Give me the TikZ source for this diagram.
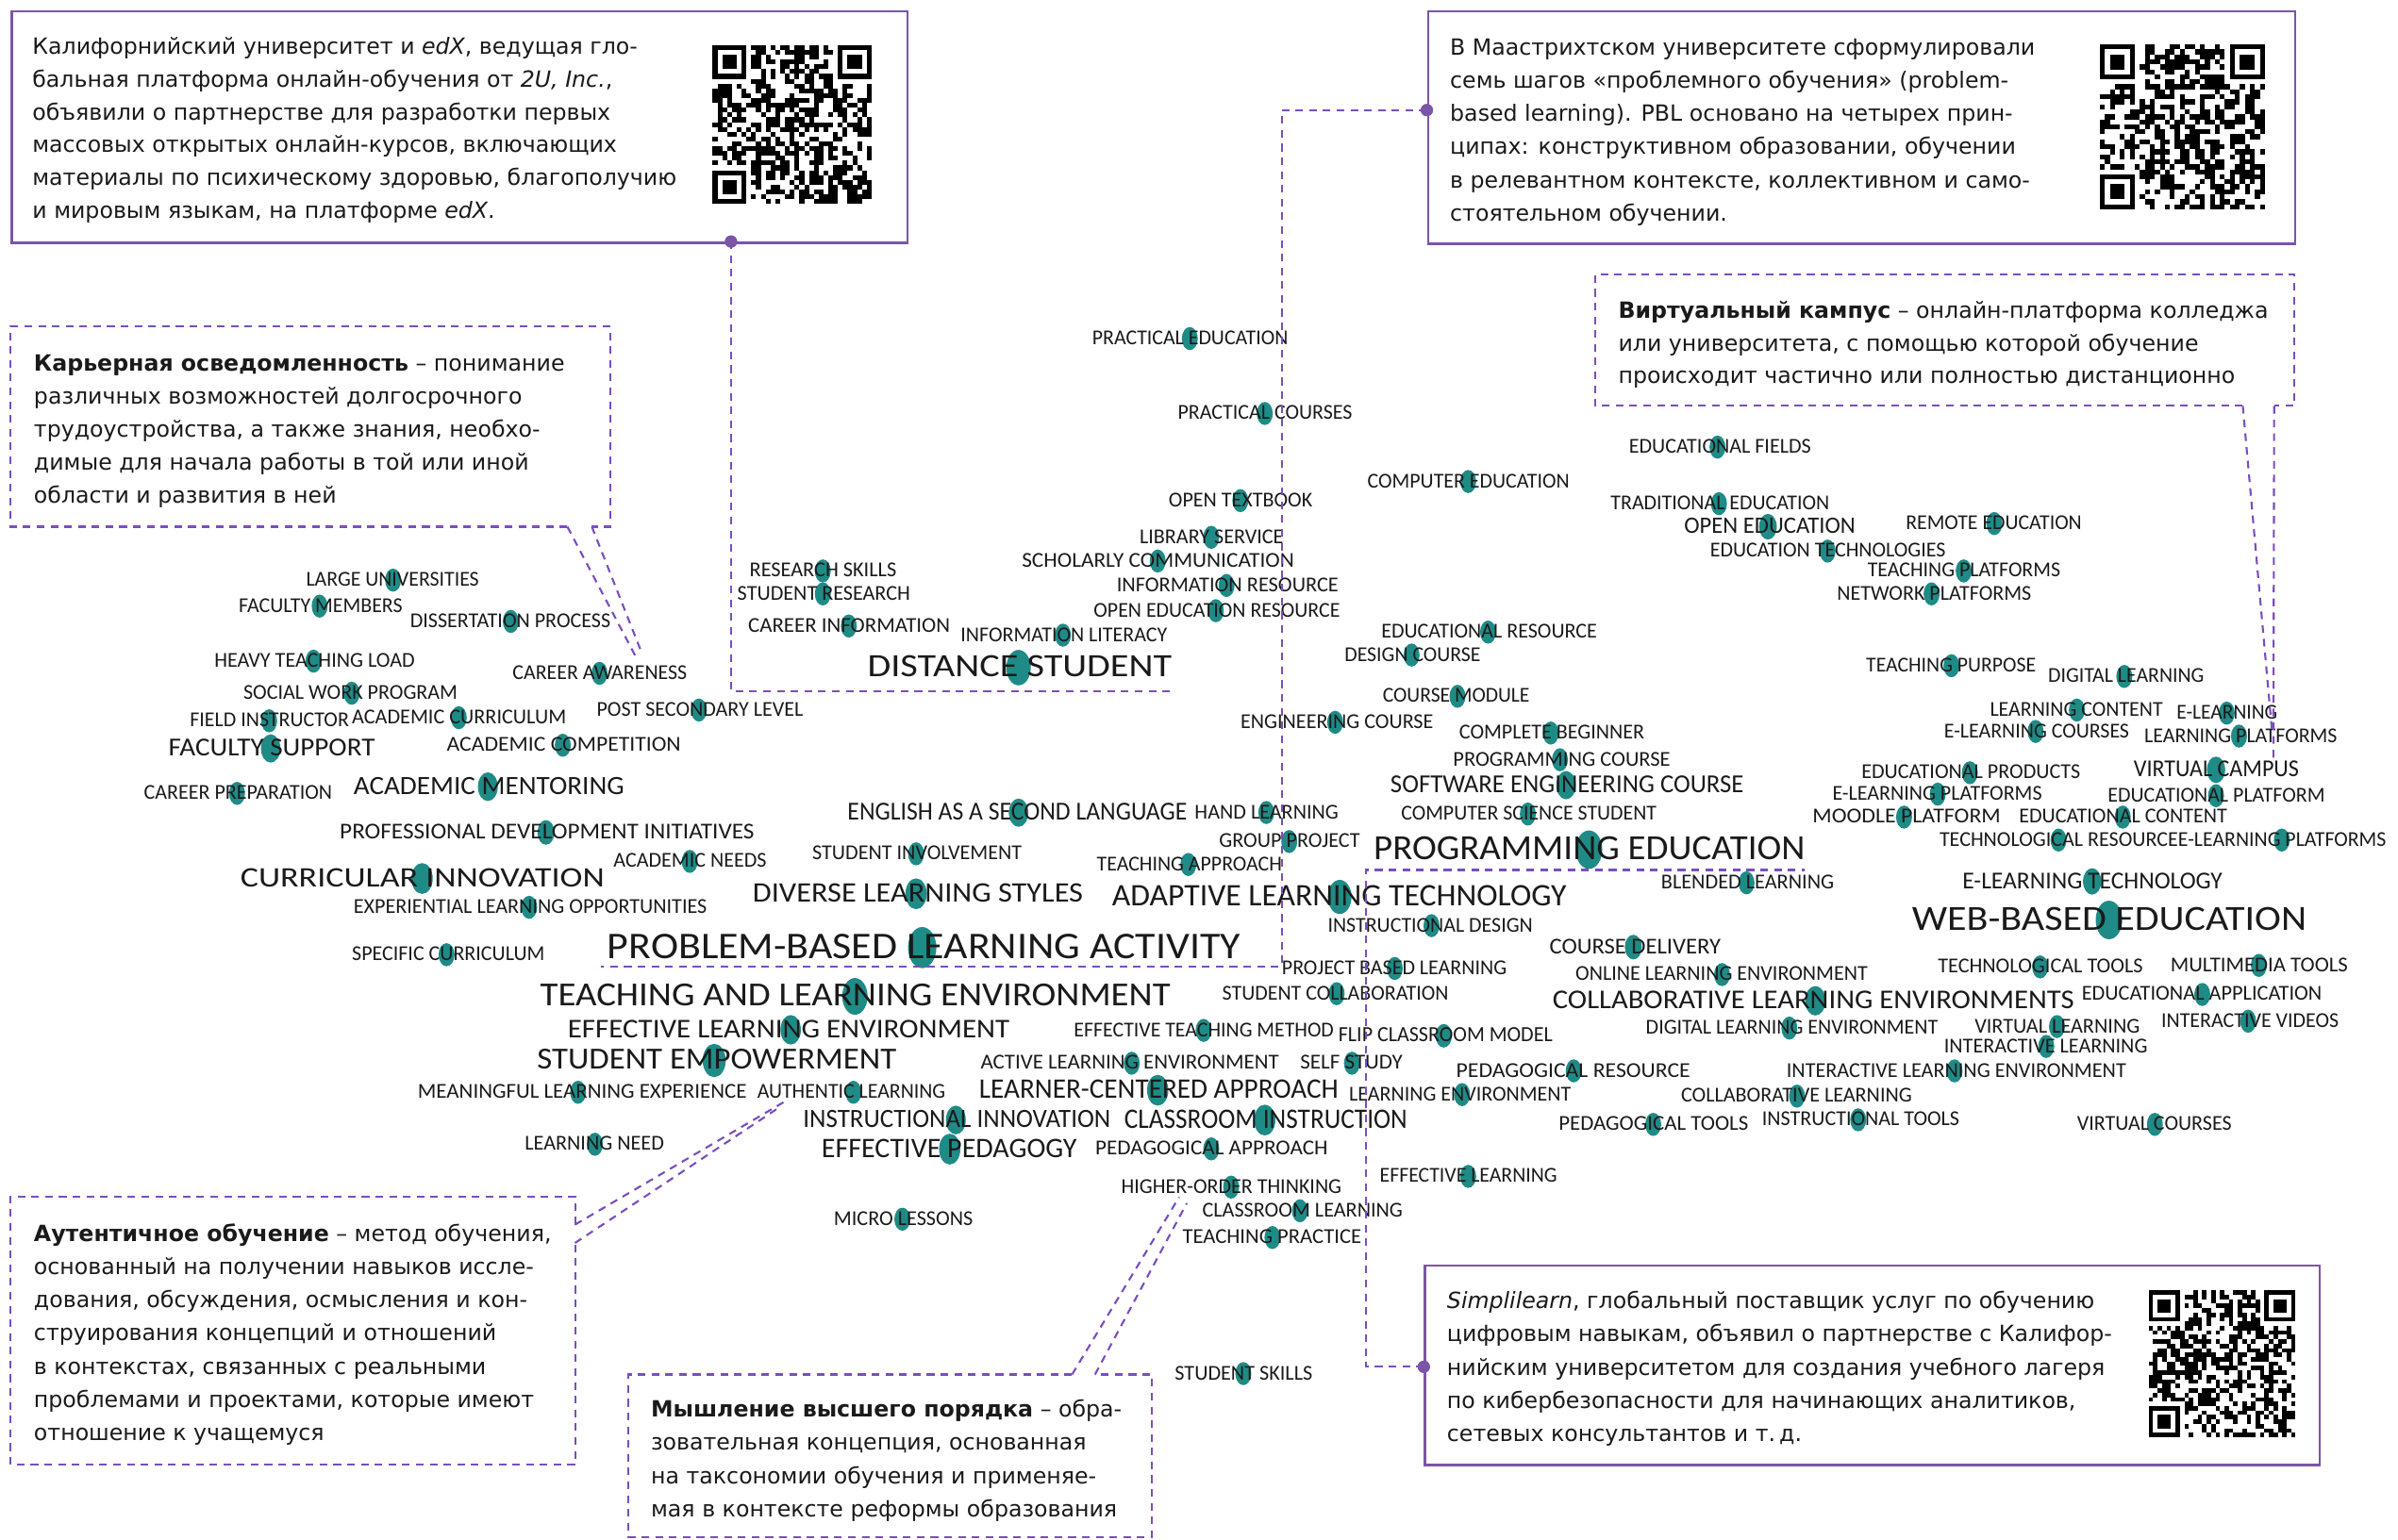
\documentclass[tikz,border=0pt]{standalone}
\usepackage{fontspec}
\usepackage{graphicx}
\setmainfont{DejaVu Sans}
\newfontfamily\cloudfont{Carlito}

\definecolor{boxviolet}{HTML}{7B55A8}
\definecolor{leadviolet}{HTML}{7A4EBE}
\definecolor{dotteal}{HTML}{1F8B86}
\definecolor{ink}{HTML}{1A1A1A}

% QR-like module grid (33 x 33): left, top, module size, seed
\newcommand\qrblock[4]{%
  \pgfmathsetseed{#4}%
  \foreach \qi in {0,...,32}{%
    \foreach \qj in {0,...,32}{%
      \pgfmathrandominteger{\qrbit}{0}{1}%
      \pgfmathtruncatemacro{\qrfree}{!(((\qi<8)&&(\qj<8))||((\qi>24)&&(\qj<8))||((\qi<8)&&(\qj>24)))}%
      \pgfmathtruncatemacro{\qrdraw}{\qrbit*\qrfree}%
      \ifnum\qrdraw=1
        \fill[black] (#1+\qi*#3,#2+\qj*#3) rectangle ++(#3,#3);
      \fi
    }%
  }%
  \foreach \fx/\fy in {0/0,26/0,0/26}{%
    \fill[black] (#1+\fx*#3,#2+\fy*#3) rectangle ++(7*#3,7*#3);
    \fill[white] (#1+\fx*#3+#3,#2+\fy*#3+#3) rectangle ++(5*#3,5*#3);
    \fill[black] (#1+\fx*#3+2*#3,#2+\fy*#3+2*#3) rectangle ++(3*#3,3*#3);
  }%
}

% keyword map: name, left x, right x, centre y, cap height, marker x, label
\newcommand\termdotpass[7]{%
  \fill[clouddot] (#6,#4+0.05*#5) ellipse [x radius=0.58*#5pt, y radius=0.84*#5pt];}
\newcommand\termlabelpass[7]{%
  \pgfmathsetlengthmacro\termw{#3-#2}%
  \node[cloudword] (#1) at (#2,#4) {\resizebox{\termw}{#5pt}{\cloudfont #7}};}

\newcommand\termlist{%
\cloudterm{t01}{714}{842}{221}{9}{778}{PRACTICAL EDUCATION}%
\cloudterm{t02}{770}{884}{270}{9}{827}{PRACTICAL COURSES}%
\cloudterm{t03}{764}{858}{327}{9}{811}{OPEN TEXTBOOK}%
\cloudterm{t04}{894}{1026}{314.5}{9}{960}{COMPUTER EDUCATION}%
\cloudterm{t05}{745}{839}{351}{9}{792}{LIBRARY SERVICE}%
\cloudterm{t06}{668}{846}{366.5}{9}{757}{SCHOLARLY COMMUNICATION}%
\cloudterm{t07}{730}{875}{382.5}{9}{802}{INFORMATION RESOURCE}%
\cloudterm{t08}{715}{876}{399}{9}{795}{OPEN EDUCATION RESOURCE}%
\cloudterm{t09}{628}{763}{415}{9}{695}{INFORMATION LITERACY}%
\cloudterm{t10}{490}{586}{373}{9}{538}{RESEARCH SKILLS}%
\cloudterm{t11}{482}{595}{388}{9}{538}{STUDENT RESEARCH}%
\cloudterm{t12}{489}{621}{409}{9}{555}{CAREER INFORMATION}%
\cloudterm{t13}{567}{766}{436}{13.8}{666}{DISTANCE STUDENT}%
\cloudterm{t14}{200}{313}{379}{9}{257}{LARGE UNIVERSITIES}%
\cloudterm{t15}{156}{263}{396}{9}{209}{FACULTY MEMBERS}%
\cloudterm{t16}{268}{399}{406}{9}{334}{DISSERTATION PROCESS}%
\cloudterm{t17}{140}{271}{432}{9}{205}{HEAVY TEACHING LOAD}%
\cloudterm{t18}{335}{449}{440}{9}{392}{CAREER AWARENESS}%
\cloudterm{t19}{159}{299}{453}{9}{230}{SOCIAL WORK PROGRAM}%
\cloudterm{t20}{390}{525}{464}{9}{457}{POST SECONDARY LEVEL}%
\cloudterm{t21}{124}{228}{471}{9}{176}{FIELD INSTRUCTOR}%
\cloudterm{t22}{230}{370}{469}{9}{300}{ACADEMIC CURRICULUM}%
\cloudterm{t23}{110}{245}{489}{11}{177}{FACULTY SUPPORT}%
\cloudterm{t24}{292}{445}{487}{9}{368}{ACADEMIC COMPETITION}%
\cloudterm{t25}{94}{217}{518.5}{9}{155}{CAREER PREPARATION}%
\cloudterm{t26}{231}{408}{514}{11.2}{319}{ACADEMIC MENTORING}%
\cloudterm{t27}{222}{493}{544}{9.6}{357}{PROFESSIONAL DEVELOPMENT INITIATIVES}%
\cloudterm{t28}{401}{501}{563}{9}{451}{ACADEMIC NEEDS}%
\cloudterm{t29}{157}{395}{574}{12}{276}{CURRICULAR INNOVATION}%
\cloudterm{t30}{231}{462}{593}{9}{346}{EXPERIENTIAL LEARNING OPPORTUNITIES}%
\cloudterm{t31}{230}{356}{624}{9}{292}{SPECIFIC CURRICULUM}%
\cloudterm{t32}{554}{776}{531}{11}{666}{ENGLISH AS A SECOND LANGUAGE}%
\cloudterm{t33}{781}{875}{531}{9}{828}{HAND LEARNING}%
\cloudterm{t34}{531}{668}{558}{9}{599}{STUDENT INVOLVEMENT}%
\cloudterm{t35}{797}{889}{550}{9}{843}{GROUP PROJECT}%
\cloudterm{t36}{717}{838}{565}{9}{777}{TEACHING APPROACH}%
\cloudterm{t37}{492}{708}{584}{12}{599}{DIVERSE LEARNING STYLES}%
\cloudterm{t38}{727}{1024}{586}{13.3}{876}{ADAPTIVE LEARNING TECHNOLOGY}%
\cloudterm{t39}{868}{1002}{605}{9}{936}{INSTRUCTIONAL DESIGN}%
\cloudterm{t40}{397}{811}{619}{16}{603}{PROBLEM-BASED LEARNING ACTIVITY}%
\cloudterm{t41}{838}{985}{633}{9}{912}{PROJECT BASED LEARNING}%
\cloudterm{t42}{799}{947}{649.5}{9}{874}{STUDENT COLLABORATION}%
\cloudterm{t43}{353}{765}{651}{14.3}{559}{TEACHING AND LEARNING ENVIRONMENT}%
\cloudterm{t44}{371}{660}{673}{11.5}{517}{EFFECTIVE LEARNING ENVIRONMENT}%
\cloudterm{t45}{702}{872}{673.5}{9}{787}{EFFECTIVE TEACHING METHOD}%
\cloudterm{t46}{875}{1015}{677}{9.2}{944}{FLIP CLASSROOM MODEL}%
\cloudterm{t47}{351}{586}{693}{13}{467}{STUDENT EMPOWERMENT}%
\cloudterm{t48}{641}{836}{695}{9}{740}{ACTIVE LEARNING ENVIRONMENT}%
\cloudterm{t49}{850}{917}{695}{9}{884}{SELF STUDY}%
\cloudterm{t50}{273}{488}{714}{9}{378}{MEANINGFUL LEARNING EXPERIENCE}%
\cloudterm{t51}{495}{618}{714}{9}{558}{AUTHENTIC LEARNING}%
\cloudterm{t52}{640}{875}{712.5}{12}{757}{LEARNER-CENTERED APPROACH}%
\cloudterm{t53}{882}{1027}{715.5}{9}{956}{LEARNING ENVIRONMENT}%
\cloudterm{t54}{525}{726}{732}{11.2}{625}{INSTRUCTIONAL INNOVATION}%
\cloudterm{t55}{735}{920}{732}{12}{827}{CLASSROOM INSTRUCTION}%
\cloudterm{t56}{537}{704}{751}{12}{621}{EFFECTIVE PEDAGOGY}%
\cloudterm{t57}{716}{868}{751}{9}{792}{PEDAGOGICAL APPROACH}%
\cloudterm{t58}{343}{434}{748}{9}{389}{LEARNING NEED}%
\cloudterm{t59}{733}{877}{776}{9}{805}{HIGHER-ORDER THINKING}%
\cloudterm{t60}{786}{917}{791.5}{9}{850}{CLASSROOM LEARNING}%
\cloudterm{t61}{773}{890}{809}{9}{832}{TEACHING PRACTICE}%
\cloudterm{t62}{902}{1018}{769}{9}{960}{EFFECTIVE LEARNING}%
\cloudterm{t63}{545}{636}{797}{9}{590}{MICRO LESSONS}%
\cloudterm{t64}{768}{858}{898}{9}{813}{STUDENT SKILLS}%
\cloudterm{t65}{1065}{1184}{292}{9}{1123}{EDUCATIONAL FIELDS}%
\cloudterm{t66}{1053}{1196}{329}{9}{1124}{TRADITIONAL EDUCATION}%
\cloudterm{t67}{1101}{1213}{344}{10}{1156}{OPEN EDUCATION}%
\cloudterm{t68}{1246}{1361}{342}{9}{1304}{REMOTE EDUCATION}%
\cloudterm{t69}{1118}{1272}{360}{9}{1195}{EDUCATION TECHNOLOGIES}%
\cloudterm{t70}{1221}{1347}{373}{9}{1284}{TEACHING PLATFORMS}%
\cloudterm{t71}{1201}{1328}{388}{9}{1263}{NETWORK PLATFORMS}%
\cloudterm{t72}{903}{1044}{413}{9}{973}{EDUCATIONAL RESOURCE}%
\cloudterm{t73}{879}{968}{428}{9}{923}{DESIGN COURSE}%
\cloudterm{t74}{904}{1000}{455}{9}{953}{COURSE MODULE}%
\cloudterm{t75}{811}{937}{472}{9}{873}{ENGINEERING COURSE}%
\cloudterm{t76}{954}{1075}{479}{9}{1014}{COMPLETE BEGINNER}%
\cloudterm{t77}{950}{1092}{496.5}{9}{1020}{PROGRAMMING COURSE}%
\cloudterm{t78}{909}{1140}{513}{11}{1024}{SOFTWARE ENGINEERING COURSE}%
\cloudterm{t79}{916}{1083}{532}{9}{999}{COMPUTER SCIENCE STUDENT}%
\cloudterm{t80}{898}{1180}{555}{15}{1039}{PROGRAMMING EDUCATION}%
\cloudterm{t81}{1086}{1199}{577}{9}{1142}{BLENDED LEARNING}%
\cloudterm{t82}{1013}{1125}{619}{9.6}{1068}{COURSE DELIVERY}%
\cloudterm{t83}{1030}{1221}{637}{9}{1126}{ONLINE LEARNING ENVIRONMENT}%
\cloudterm{t84}{1015}{1356}{654}{11.5}{1187}{COLLABORATIVE LEARNING ENVIRONMENTS}%
\cloudterm{t85}{1076}{1267}{672}{9}{1170}{DIGITAL LEARNING ENVIRONMENT}%
\cloudterm{t86}{952}{1105}{700}{9}{1029}{PEDAGOGICAL RESOURCE}%
\cloudterm{t87}{1099}{1250}{716.5}{9}{1175}{COLLABORATIVE LEARNING}%
\cloudterm{t88}{1019}{1143}{735}{9}{1081}{PEDAGOGICAL TOOLS}%
\cloudterm{t89}{1152}{1281}{732}{9}{1215}{INSTRUCTIONAL TOOLS}%
\cloudterm{t90}{1220}{1331}{435}{9}{1276}{TEACHING PURPOSE}%
\cloudterm{t91}{1339}{1441}{442}{9}{1389}{DIGITAL LEARNING}%
\cloudterm{t92}{1301}{1414}{464}{9}{1358}{LEARNING CONTENT}%
\cloudterm{t93}{1423}{1489}{466}{9}{1456}{E-LEARNING}%
\cloudterm{t94}{1271}{1392}{478}{9}{1331}{E-LEARNING COURSES}%
\cloudterm{t95}{1402}{1528}{481}{9}{1464}{LEARNING PLATFORMS}%
\cloudterm{t96}{1217}{1360}{505}{9}{1288}{EDUCATIONAL PRODUCTS}%
\cloudterm{t97}{1395}{1503}{503}{10.3}{1449}{VIRTUAL CAMPUS}%
\cloudterm{t98}{1198}{1335}{519}{9}{1267}{E-LEARNING PLATFORMS}%
\cloudterm{t99}{1378}{1520}{520}{9}{1449}{EDUCATIONAL PLATFORM}%
\cloudterm{t100}{1185}{1308}{534}{9}{1245}{MOODLE PLATFORM}%
\cloudterm{t101}{1320}{1456}{534}{9}{1388}{EDUCATIONAL CONTENT}%
\cloudterm{t102}{1268}{1424}{549}{9}{1346}{TECHNOLOGICAL RESOURCE}%
\cloudterm{t103}{1424}{1560}{549}{9}{1492}{E-LEARNING PLATFORMS}%
\cloudterm{t104}{1283}{1453}{576}{10.3}{1368}{E-LEARNING TECHNOLOGY}%
\cloudterm{t105}{1250}{1508}{601}{15}{1379}{WEB-BASED EDUCATION}%
\cloudterm{t106}{1267}{1401}{632}{9}{1334}{TECHNOLOGICAL TOOLS}%
\cloudterm{t107}{1419}{1535}{631}{9}{1477}{MULTIMEDIA TOOLS}%
\cloudterm{t108}{1361}{1518}{650}{9}{1440}{EDUCATIONAL APPLICATION}%
\cloudterm{t109}{1413}{1529}{667.5}{9}{1470}{INTERACTIVE VIDEOS}%
\cloudterm{t110}{1291}{1399}{671}{9}{1345}{VIRTUAL LEARNING}%
\cloudterm{t111}{1271}{1404}{684}{9}{1338}{INTERACTIVE LEARNING}%
\cloudterm{t112}{1168}{1390}{700}{9}{1278}{INTERACTIVE LEARNING ENVIRONMENT}%
\cloudterm{t113}{1358}{1459}{735}{9}{1409}{VIRTUAL COURSES}%
}

\begin{document}
\begin{tikzpicture}[x=1pt, y=-1pt,
  infobox/.style={draw=boxviolet, line width=1.6pt, inner sep=0pt, anchor=north west},
  notebox/.style={draw=leadviolet, line width=1.3pt, dash pattern=on 5pt off 4pt},
  leader/.style={draw=leadviolet, line width=1.3pt, dash pattern=on 5pt off 4pt},
  notetext/.style={anchor=base west, inner sep=0pt, text=ink, font=\fontsize{14.6}{18}\selectfont},
  tipdot/.style={circle, fill=boxviolet, inner sep=0pt, minimum size=8pt},
  cloudword/.style={anchor=west, inner sep=0pt, text=ink},
  clouddot/.style={fill=dotteal}]

\useasboundingbox (0,0) rectangle (1568,1007);
\fill[white] (0,0) rectangle (1568,1007);

% ---------- keyword map: markers first, labels on top ----------
\let\cloudterm\termdotpass
\termlist
\let\cloudterm\termlabelpass
\termlist

% ---------- framed news boxes ----------
\node[infobox, minimum width=585.5pt, minimum height=151.5pt] (boxA) at (7,6.5) {};
\node[infobox, minimum width=567pt, minimum height=152pt] (boxB) at (933,6.5) {};
\node[infobox, minimum width=585pt, minimum height=130.5pt] (boxF) at (931,827) {};

\node[notetext] (a1) at (21,35.4) {Калифорнийский университет и \emph{edX}, ведущая гло-};
\node[notetext] (a2) at (21,56.9) {бальная платформа онлайн-обучения от \emph{2U, Inc.},};
\node[notetext] (a3) at (21,78.4) {объявили о партнерстве для разработки первых};
\node[notetext] (a4) at (21,99.9) {массовых открытых онлайн-курсов, включающих};
\node[notetext] (a5) at (21,121.4) {материалы по психическому здоровью, благополучию};
\node[notetext] (a6) at (21,142.9) {и мировым языкам, на платформе \emph{edX}.};
\qrblock{466}{29.5}{3.15}{11}

\node[notetext] (b1) at (948,36) {В Маастрихтском университете сформулировали};
\node[notetext] (b2) at (948,57.7) {семь шагов «проблемного обучения» (problem-};
\node[notetext] (b3) at (948,79.4) {based learning). PBL основано на четырех прин-};
\node[notetext] (b4) at (948,101.1) {ципах: конструктивном образовании, обучении};
\node[notetext] (b5) at (948,122.8) {в релевантном контексте, коллективном и само-};
\node[notetext] (b6) at (948,144.5) {стоятельном обучении.};
\qrblock{1373}{29}{3.27}{23}

\node[notetext] (f1) at (946,856) {\emph{Simplilearn}, глобальный поставщик услуг по обучению};
\node[notetext] (f2) at (946,877.7) {цифровым навыкам, объявил о партнерстве с Калифор-};
\node[notetext] (f3) at (946,899.4) {нийским университетом для создания учебного лагеря};
\node[notetext] (f4) at (946,921.1) {по кибербезопасности для начинающих аналитиков,};
\node[notetext] (f5) at (946,942.8) {сетевых консультантов и т.\,д.};
\qrblock{1405}{844}{2.91}{37}

% ---------- dashed glossary notes ----------
\draw[notebox] (1466.5,265.5) -- (1043,265.5) -- (1043,179.5) -- (1500,179.5) -- (1500,265.5) -- (1487,265.5);
\node[notetext] (v1) at (1058,208) {\textbf{Виртуальный кампус} – онлайн-платформа колледжа};
\node[notetext] (v2) at (1058,229.5) {или университета, с помощью которой обучение};
\node[notetext] (v3) at (1058,251) {происходит частично или полностью дистанционно};

\draw[notebox] (371,344.5) -- (7,344.5) -- (7,213.5) -- (399,213.5) -- (399,344.5) -- (387,344.5);
\node[notetext] (c1) at (22,243) {\textbf{Карьерная осведомленность} – понимание};
\node[notetext] (c2) at (22,264.5) {различных возможностей долгосрочного};
\node[notetext] (c3) at (22,286) {трудоустройства, а также знания, необхо-};
\node[notetext] (c4) at (22,307.5) {димые для начала работы в той или иной};
\node[notetext] (c5) at (22,329) {области и развития в ней};

\draw[notebox] (376,801) -- (376,782.5) -- (7,782.5) -- (7,958) -- (376,958) -- (376,813);
\node[notetext] (u1) at (22,812) {\textbf{Аутентичное обучение} – метод обучения,};
\node[notetext] (u2) at (22,833.7) {основанный на получении навыков иссле-};
\node[notetext] (u3) at (22,855.4) {дования, обсуждения, осмысления и кон-};
\node[notetext] (u4) at (22,877.1) {струирования концепций и отношений};
\node[notetext] (u5) at (22,898.8) {в контекстах, связанных с реальными};
\node[notetext] (u6) at (22,920.5) {проблемами и проектами, которые имеют};
\node[notetext] (u7) at (22,942.2) {отношение к учащемуся};

\draw[notebox] (701,899) -- (411,899) -- (411,1005.5) -- (753,1005.5) -- (753,899) -- (716,899);
\node[notetext] (h1) at (425.5,926.5) {\textbf{Мышление высшего порядка} – обра-};
\node[notetext] (h2) at (425.5,948.4) {зовательная концепция, основанная};
\node[notetext] (h3) at (425.5,970.3) {на таксономии обучения и применяе-};
\node[notetext] (h4) at (425.5,992.2) {мая в контексте реформы образования};

% ---------- leaders ----------
\node[tipdot] (tipA) at (478,158) {};
\node[tipdot] (tipB) at (933,72) {};
\node[tipdot] (tipF) at (931,894) {};

\coordinate (kA) at (478,452);
\draw[leader] (tipA.center) -- (kA) -- (kA -| t13.east);

\coordinate (kB1) at (838,72);
\coordinate (kB2) at (838,632);
\coordinate (kB3) at (393,632);
\draw[leader] (tipB.center) -- (kB1) -- (kB2) -- (kB3);

\coordinate (kF1) at (893,894);
\coordinate (kF2) at (893,569);
\coordinate (kF3) at (1180,569);
\draw[leader] (tipF.center) -- (kF1) -- (kF2) -- (kF3);

% callout tails of the glossary notes
\coordinate (vL) at (1466.5,265.5);
\coordinate (vR) at (1487,265.5);
\draw[leader] (vL) -- (1485.5,477);
\draw[leader] (vR) -- (1486.5,497);

\coordinate (cL) at (371,344.5);
\coordinate (cR) at (387,344.5);
\draw[leader] (cL) -- (417,432);
\draw[leader] (cR) -- (420,428);

\coordinate (uT) at (376,801);
\coordinate (uB) at (376,813);
\draw[leader] (uT) -- (514,720);
\draw[leader] (uB) -- (510,724);

\coordinate (hL) at (701,899);
\coordinate (hR) at (716,899);
\draw[leader] (hL) -- (771,783);
\draw[leader] (hR) -- (776,787);

\node[tipdot] at (tipA) {};
\node[tipdot] at (tipB) {};
\node[tipdot] at (tipF) {};
\end{tikzpicture}
\end{document}
